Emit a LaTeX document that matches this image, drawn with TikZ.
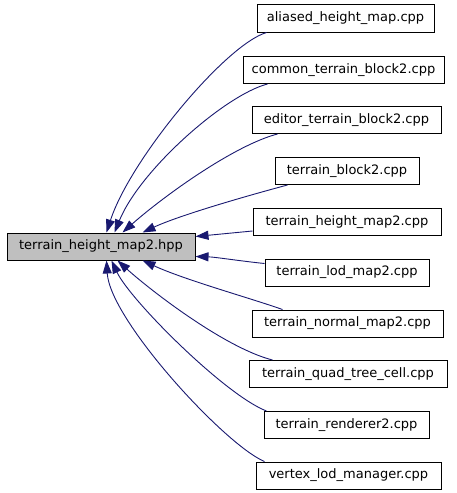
\documentclass[tikz,border=0pt]{standalone}
\usepackage{fontspec}
\setmainfont{DejaVu Sans}
\usetikzlibrary{arrows.meta}
\definecolor{edgeblue}{HTML}{191970}
\definecolor{mainfill}{HTML}{BFBFBF}
\tikzset{
  box/.style={draw=black, line width=1pt, fill=white, inner sep=0pt, minimum height=27pt,
    font=\fontsize{13}{15}\selectfont, text=black},
  mainbox/.style={box, fill=mainfill},
  dep/.style={draw=edgeblue, line width=0.9pt, -{Triangle[length=13pt,width=9pt]}, color=edgeblue},
}
\begin{document}
\begin{tikzpicture}[x=1pt,y=-1pt]
\useasboundingbox (0,0) rectangle (456,493);
\node[mainbox, minimum width=188pt] (main) at (101,246.5) {terrain\_height\_map2.hpp};
\node[box, minimum width=177pt, minimum height=28pt] (a1) at (345.5,18) {aliased\_height\_map.cpp};
\node[box, minimum width=201pt] (a2) at (343.5,70) {common\_terrain\_block2.cpp};
\node[box, minimum width=189pt] (a3) at (346.5,120) {editor\_terrain\_block2.cpp};
\node[box, minimum width=144pt] (a4) at (347,171) {terrain\_block2.cpp};
\node[box, minimum width=188pt] (a5) at (347,222) {terrain\_height\_map2.cpp};
\node[box, minimum width=164pt] (a6) at (347,272.5) {terrain\_lod\_map2.cpp};
\node[box, minimum width=191pt] (a7) at (347.5,323.5) {terrain\_normal\_map2.cpp};
\node[box, minimum width=198pt] (a8) at (348,374) {terrain\_quad\_tree\_cell.cpp};
\node[box, minimum width=165pt] (a9) at (346.5,425) {terrain\_renderer2.cpp};
\node[box, minimum width=185pt] (a10) at (348.5,475.5) {vertex\_lod\_manager.cpp};

\draw[dep] ([xshift=10]a1.south west) .. controls (225,45) and (130,160) .. ([xshift=100]main.north west);
\draw[dep] ([xshift=25]a2.south west) .. controls (225,95) and (140,170) .. ([xshift=108]main.north west);
\draw[dep] ([xshift=26]a3.south west) .. controls (235,145) and (165,195) .. ([xshift=116]main.north west);
\draw[dep] ([xshift=13]a4.south west) .. controls (250,195) and (180,215) .. ([xshift=136]main.north west);
\draw[dep] ([yshift=-9]a5.west) -- ([yshift=10]main.east);
\draw[dep] ([yshift=-5]a6.north west) .. controls (240,261) and (215,257) .. ([yshift=-10]main.east);
\draw[dep] ([xshift=31]a7.north west) .. controls (250,298) and (185,280) .. ([xshift=136]main.south west);
\draw[dep] ([xshift=24]a8.north west) .. controls (225,348) and (150,290) .. ([xshift=111]main.south west);
\draw[dep] ([xshift=3]a9.north west) .. controls (225,395) and (130,300) .. ([xshift=105]main.south west);
\draw[dep] ([xshift=9]a10.north west) .. controls (225,445) and (110,320) .. ([xshift=100]main.south west);
\end{tikzpicture}
\end{document}
